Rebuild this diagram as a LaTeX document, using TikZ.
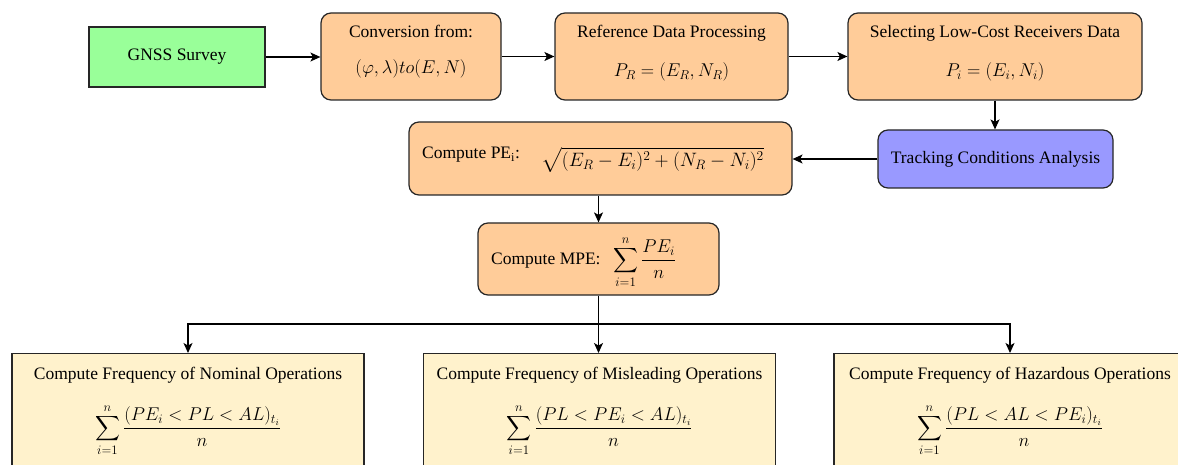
\RequirePackage{fix-cm}
\documentclass[tikz,border=0pt]{standalone}
\usepackage{amsmath}
\usepackage{fontspec}
\setmainfont{Liberation Serif}
\usetikzlibrary{arrows.meta}
\definecolor{orangefill}{HTML}{FFCC99}
\definecolor{greenfill}{HTML}{99FF99}
\definecolor{bluefill}{HTML}{9999FF}
\definecolor{yellowfill}{HTML}{FFF2CC}
\tikzset{
  x=1pt,y=1pt,
  box/.style={draw=black!85, line width=1.2pt, inner sep=0pt, minimum width=#1},
  roundbox/.style={box=#1, rounded corners=10pt, fill=orangefill},
  txt/.style={inner sep=0pt, font=\fontsize{17.5}{21}\selectfont},
  mth/.style={inner sep=0pt, font=\fontsize{18.5}{22}\selectfont},
  conn/.style={line width=1.2pt, -{Stealth[length=10pt,width=9pt,inset=2.5pt]}},
  plain/.style={line width=1.2pt}
}
\begin{document}
\begin{tikzpicture}
\useasboundingbox (0,0) rectangle (1178,-465);
\clip (0,0) rectangle (1178,-465);
% top row
\node[box=176pt, minimum height=60pt, fill=greenfill] (gnss) at (177,-57) {};
\node[txt] (gnsst) at (177,-57) {GNSS Survey};
\node[roundbox=180pt, minimum height=87pt] (conv) at (411,-56.5) {};
\node[txt] (convt1) at (411,-31) {Conversion from:};
\node[mth] (convt2) at (411,-69) {$(\varphi, \lambda) to (E, N)$};
\node[roundbox=233pt, minimum height=87pt] (ref) at (671.5,-56.5) {};
\node[txt] (reft1) at (671.5,-33) {Reference Data Processing};
\node[mth] (reft2) at (671.5,-72) {$P_R = (E_R, N_R)$};
\node[roundbox=294pt, minimum height=87pt] (sel) at (995,-56.5) {};
\node[txt] (selt1) at (995,-33) {Selecting Low-Cost Receivers Data};
\node[mth] (selt2) at (995,-72) {$P_i = (E_i, N_i)$};
% middle
\node[roundbox=383pt, minimum height=73pt] (pe) at (600.5,-158.5) {};
\node[txt, anchor=west] (pet1) at (422,-155) {Compute PE\textsubscript{i}:};
\node[mth, anchor=west, font=\fontsize{19.4}{23}\selectfont] (pet2) at (541,-160) {$\sqrt{(E_R - E_i)^2 + (N_R - N_i)^2}$};
\node[box=235pt, minimum height=58pt, rounded corners=10pt, fill=bluefill] (track) at (995.5,-159) {};
\node[txt] (trackt) at (995.5,-159) {Tracking Conditions Analysis};
\node[roundbox=241pt, minimum height=72pt] (mpe) at (598.5,-259) {};
\node[txt, anchor=west] (mpet1) at (491,-261) {Compute MPE:};
\node[mth, anchor=west] (mpet2) at (613,-262) {$\displaystyle\sum_{i=1}^{n}\frac{PE_i}{n}$};
% bottom
\node[box=352pt, minimum height=130pt, fill=yellowfill, anchor=north] (nom) at (188,-353) {};
\node[txt] (nomt1) at (188,-375) {Compute Frequency of Nominal Operations};
\node[mth] (nomt2) at (188,-430) {$\displaystyle\sum_{i=1}^{n}\frac{(PE_i < PL < AL)_{t_i}}{n}$};
\node[box=352pt, minimum height=130pt, fill=yellowfill, anchor=north] (mis) at (599.5,-353) {};
\node[txt] (mist1) at (599.5,-375) {Compute Frequency of Misleading Operations};
\node[mth] (mist2) at (599.5,-430) {$\displaystyle\sum_{i=1}^{n}\frac{(PL < PE_i < AL)_{t_i}}{n}$};
\node[box=352pt, minimum height=130pt, fill=yellowfill, anchor=north] (haz) at (1010,-353) {};
\node[txt] (hazt1) at (1010,-375) {Compute Frequency of Hazardous Operations};
\node[mth] (hazt2) at (1010,-430) {$\displaystyle\sum_{i=1}^{n}\frac{(PL < AL < PE_i)_{t_i}}{n}$};
% connectors
\coordinate (split) at (598.5,-324);
\draw[conn] (gnss.east) -- (conv.west |- gnss.east);
\draw[conn] (conv.east) -- (ref.west);
\draw[conn] (ref.east) -- (sel.west);
\draw[conn] (sel.south) -- (track.north -| sel.south);
\draw[conn] (track.west) -- (pe.east |- track.west);
\draw[conn] (pe.south -| mpe.north) -- (mpe.north);
\draw[plain] (mpe.south) -- (split);
\draw[conn] (split) -| (nom.north);
\draw[conn] (split) -| (haz.north);
\draw[conn] (split) -- (mis.north -| split);
\end{tikzpicture}
\end{document}
